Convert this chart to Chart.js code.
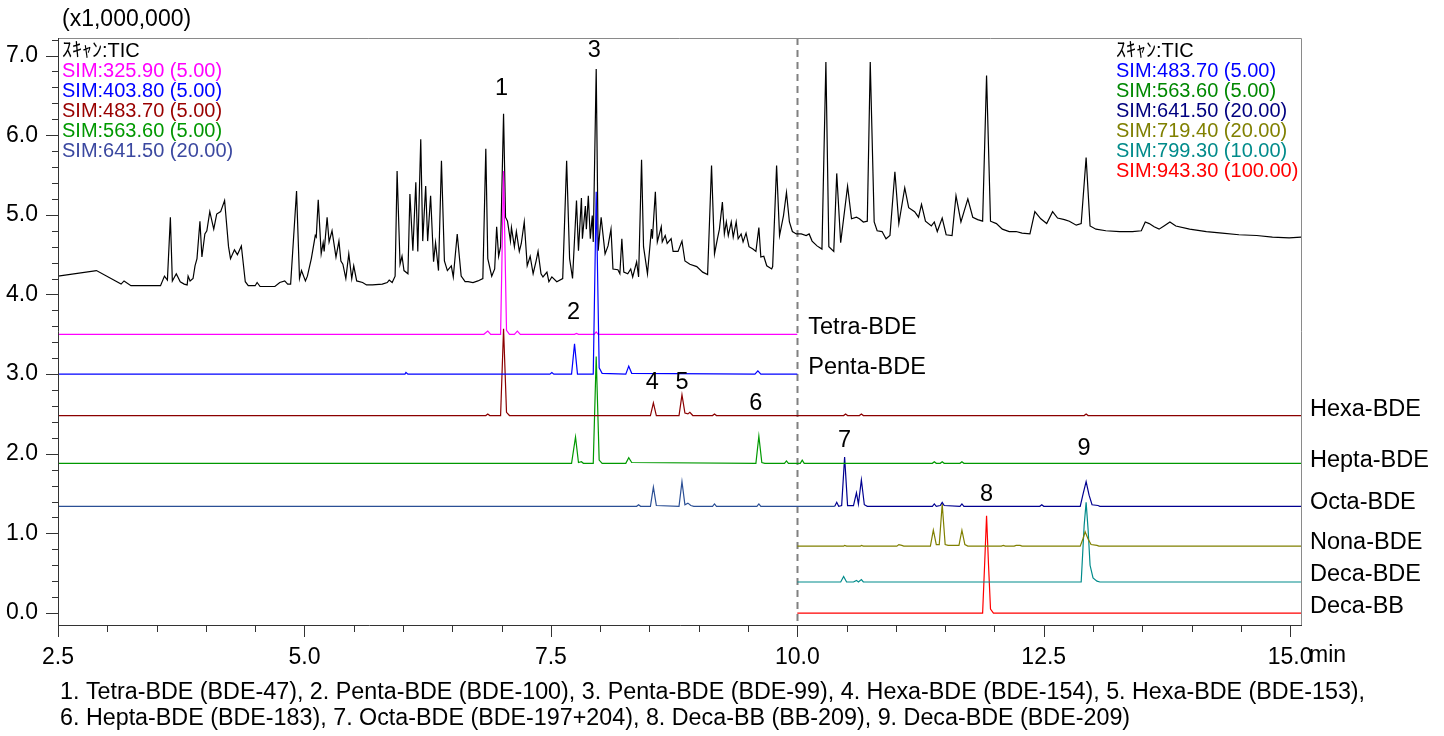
<!DOCTYPE html>
<html>
<head>
<meta charset="utf-8">
<title>PBDE chromatogram</title>
<script src="https://cdn.jsdelivr.net/npm/chart.js@4.4.1/dist/chart.umd.min.js"></script>
<style>
html, body { margin: 0; padding: 0; background: #fff; }
#wrap { width: 1444px; height: 736px; }
</style>
</head>
<body>
<div id="wrap"><canvas id="chrom" width="1444" height="736"></canvas></div>
<script>
"use strict";

// retention time (min) / intensity (x1,000,000) pairs
const tic = [[2.50,4.23],[2.89,4.30],[3.14,4.13],[3.17,4.17],[3.24,4.11],[3.54,4.11],[3.58,4.23],[3.61,4.18],[3.64,4.97],[3.66,4.17],[3.70,4.26],[3.74,4.16],[3.78,4.13],[3.81,4.12],[3.82,4.23],[3.84,4.17],[3.87,4.20],[3.89,4.36],[3.91,4.45],[3.94,4.92],[3.96,4.47],[3.99,4.76],[4.01,4.80],[4.04,5.04],[4.08,4.82],[4.11,5.01],[4.15,5.04],[4.19,5.18],[4.23,4.60],[4.25,4.45],[4.29,4.56],[4.32,4.50],[4.36,4.61],[4.40,4.16],[4.43,4.11],[4.50,4.11],[4.52,4.15],[4.55,4.10],[4.70,4.10],[4.75,4.15],[4.80,4.17],[4.83,4.13],[4.86,4.13],[4.92,5.30],[4.95,4.20],[4.97,4.30],[5.01,4.17],[5.03,4.23],[5.07,4.45],[5.11,4.74],[5.12,4.72],[5.14,5.19],[5.17,4.51],[5.19,4.65],[5.20,4.54],[5.23,4.97],[5.25,4.66],[5.28,4.80],[5.32,4.47],[5.35,4.67],[5.37,4.42],[5.39,4.38],[5.42,4.20],[5.45,4.51],[5.48,4.20],[5.50,4.36],[5.53,4.17],[5.59,4.15],[5.63,4.12],[5.69,4.12],[5.79,4.13],[5.84,4.15],[5.86,4.18],[5.89,4.15],[5.92,4.23],[5.94,5.55],[5.97,4.38],[5.99,4.48],[6.01,4.30],[6.05,4.26],[6.07,5.26],[6.10,4.55],[6.13,5.41],[6.15,4.54],[6.18,5.95],[6.20,4.67],[6.23,5.36],[6.25,4.67],[6.28,5.24],[6.31,4.41],[6.33,4.65],[6.36,4.30],[6.39,5.68],[6.42,4.42],[6.45,4.30],[6.49,4.36],[6.51,4.22],[6.55,4.76],[6.59,4.23],[6.63,4.16],[6.66,4.16],[6.71,4.15],[6.76,4.17],[6.81,4.20],[6.84,5.83],[6.86,4.45],[6.90,4.23],[6.93,4.32],[6.95,4.85],[6.97,4.48],[6.99,4.60],[7.02,6.27],[7.04,4.97],[7.06,4.92],[7.09,4.67],[7.10,4.84],[7.13,4.60],[7.15,4.79],[7.18,4.54],[7.20,4.64],[7.23,4.91],[7.26,4.36],[7.29,4.48],[7.32,4.26],[7.35,4.42],[7.37,4.54],[7.40,4.26],[7.42,4.22],[7.46,4.28],[7.48,4.16],[7.51,4.22],[7.56,4.16],[7.62,4.20],[7.66,5.68],[7.69,4.45],[7.72,4.20],[7.76,5.18],[7.78,4.55],[7.81,5.21],[7.82,4.70],[7.85,5.11],[7.86,4.82],[7.88,5.24],[7.90,4.70],[7.92,4.99],[7.93,4.66],[7.96,6.83],[7.98,4.55],[8.01,4.97],[8.05,4.51],[8.08,4.61],[8.11,4.82],[8.13,4.32],[8.18,4.31],[8.20,4.26],[8.22,4.70],[8.24,4.28],[8.28,4.26],[8.31,4.32],[8.33,4.22],[8.37,4.41],[8.39,4.22],[8.42,5.69],[8.44,4.60],[8.48,4.26],[8.52,4.82],[8.53,4.70],[8.56,5.29],[8.58,4.66],[8.62,4.85],[8.63,4.66],[8.66,4.74],[8.68,4.64],[8.72,4.70],[8.74,4.54],[8.79,4.54],[8.83,4.67],[8.86,4.42],[8.91,4.38],[8.98,4.35],[9.04,4.28],[9.09,4.25],[9.13,5.62],[9.16,4.51],[9.19,4.70],[9.21,4.82],[9.24,5.16],[9.26,4.76],[9.28,4.91],[9.30,4.74],[9.33,4.91],[9.35,4.72],[9.38,4.91],[9.40,4.70],[9.43,4.76],[9.45,4.66],[9.48,4.77],[9.51,4.60],[9.55,4.57],[9.58,4.54],[9.61,4.84],[9.63,4.47],[9.66,4.48],[9.69,4.36],[9.74,4.32],[9.75,4.35],[9.79,5.62],[9.82,4.74],[9.86,4.99],[9.89,5.28],[9.92,4.91],[9.95,4.79],[9.99,4.76],[10.04,4.76],[10.09,4.74],[10.12,4.76],[10.15,4.67],[10.20,4.61],[10.25,4.57],[10.29,6.92],[10.32,4.60],[10.37,4.54],[10.40,5.52],[10.44,4.65],[10.51,5.36],[10.55,4.95],[10.60,4.97],[10.63,4.95],[10.67,4.91],[10.71,4.92],[10.74,6.92],[10.78,4.91],[10.81,4.80],[10.86,4.79],[10.90,4.70],[10.94,4.74],[10.99,5.54],[11.03,4.89],[11.09,5.34],[11.13,5.09],[11.19,5.04],[11.23,4.97],[11.26,5.13],[11.30,4.92],[11.36,4.86],[11.39,4.91],[11.42,4.79],[11.47,4.96],[11.51,4.75],[11.57,4.74],[11.61,5.24],[11.66,4.91],[11.73,5.20],[11.78,4.97],[11.83,4.94],[11.88,4.92],[11.92,6.75],[11.96,4.92],[12.02,4.89],[12.08,4.82],[12.15,4.79],[12.22,4.79],[12.28,4.77],[12.36,4.76],[12.41,5.04],[12.47,4.95],[12.53,4.89],[12.59,5.04],[12.64,4.96],[12.71,4.94],[12.76,4.92],[12.83,4.87],[12.88,4.89],[12.93,5.72],[12.97,4.86],[13.03,4.82],[13.13,4.80],[13.27,4.79],[13.40,4.79],[13.49,4.80],[13.53,4.91],[13.57,4.89],[13.62,4.85],[13.67,4.82],[13.72,4.86],[13.78,4.91],[13.84,4.86],[13.98,4.82],[14.15,4.79],[14.31,4.77],[14.48,4.75],[14.66,4.74],[14.82,4.72],[14.99,4.71],[15.11,4.72]];

const tetraBDE = [[2.50,3.50],[6.82,3.50],[6.86,3.54],[6.89,3.50],[6.99,3.50],[7.02,5.55],[7.05,3.55],[7.08,3.50],[7.13,3.50],[7.16,3.54],[7.19,3.50],[7.74,3.50],[7.76,3.51],[7.78,3.50],[7.94,3.50],[7.96,3.53],[7.98,3.50],[10.00,3.50]];

const pentaBDE = [[2.50,3.00],[6.02,3.00],[6.03,3.02],[6.05,3.00],[7.49,3.00],[7.51,3.02],[7.53,3.00],[7.71,3.00],[7.74,3.38],[7.77,3.00],[7.93,3.00],[7.96,5.29],[7.99,3.08],[8.02,3.01],[8.26,3.00],[8.29,3.10],[8.32,3.01],[9.57,3.00],[9.60,3.04],[9.63,3.00],[10.00,3.00]];

const hexaBDE = [[2.50,2.48],[6.84,2.48],[6.86,2.50],[6.88,2.48],[6.99,2.48],[7.02,3.57],[7.05,2.52],[7.08,2.48],[8.51,2.48],[8.54,2.64],[8.57,2.48],[8.80,2.48],[8.83,2.74],[8.86,2.51],[8.89,2.50],[8.91,2.52],[8.94,2.48],[9.14,2.48],[9.16,2.50],[9.18,2.48],[10.47,2.48],[10.49,2.50],[10.51,2.48],[10.63,2.48],[10.65,2.50],[10.67,2.48],[12.91,2.48],[12.93,2.50],[12.95,2.48],[15.12,2.48]];

const heptaBDE = [[2.50,1.88],[7.71,1.88],[7.75,2.21],[7.78,1.89],[7.81,1.90],[7.83,1.88],[7.93,1.88],[7.96,3.22],[7.99,1.92],[8.02,1.88],[8.26,1.88],[8.29,1.95],[8.32,1.89],[9.58,1.88],[9.61,2.22],[9.64,1.89],[9.67,1.88],[9.87,1.88],[9.89,1.91],[9.91,1.88],[10.03,1.88],[10.05,1.92],[10.07,1.88],[11.37,1.88],[11.39,1.90],[11.41,1.88],[11.45,1.88],[11.47,1.90],[11.49,1.88],[11.65,1.88],[11.67,1.90],[11.69,1.88],[15.12,1.88]];

const octaBDE = [[2.50,1.34],[8.37,1.34],[8.39,1.36],[8.41,1.34],[8.51,1.34],[8.54,1.58],[8.57,1.35],[8.80,1.34],[8.83,1.65],[8.86,1.36],[8.89,1.38],[8.92,1.35],[8.95,1.34],[9.14,1.34],[9.16,1.37],[9.18,1.34],[9.59,1.34],[9.61,1.37],[9.63,1.34],[10.38,1.34],[10.40,1.39],[10.42,1.34],[10.45,1.35],[10.48,1.96],[10.51,1.35],[10.57,1.35],[10.60,1.51],[10.62,1.37],[10.65,1.67],[10.68,1.36],[10.71,1.34],[11.37,1.34],[11.39,1.37],[11.41,1.34],[11.45,1.35],[11.47,1.39],[11.49,1.35],[11.65,1.34],[11.67,1.37],[11.69,1.34],[12.46,1.34],[12.48,1.36],[12.50,1.34],[12.87,1.34],[12.90,1.50],[12.93,1.65],[12.96,1.48],[12.99,1.36],[13.05,1.35],[13.07,1.34],[15.12,1.34]];

const nonaBDE = [[10.00,0.84],[10.47,0.84],[10.48,0.85],[10.50,0.84],[10.64,0.84],[10.65,0.85],[10.67,0.84],[11.01,0.84],[11.03,0.86],[11.06,0.85],[11.08,0.84],[11.35,0.84],[11.38,1.04],[11.41,0.86],[11.44,0.86],[11.47,1.37],[11.50,0.86],[11.53,0.85],[11.64,0.85],[11.67,1.04],[11.70,0.86],[11.73,0.84],[12.07,0.84],[12.09,0.85],[12.11,0.84],[12.20,0.84],[12.22,0.85],[12.26,0.85],[12.28,0.84],[12.87,0.84],[12.90,0.94],[12.92,1.02],[12.95,0.93],[12.98,0.86],[13.04,0.85],[13.06,0.84],[15.12,0.84]];

const decaBDE = [[10.00,0.39],[10.44,0.39],[10.47,0.46],[10.50,0.39],[10.57,0.39],[10.60,0.41],[10.62,0.39],[10.65,0.42],[10.67,0.39],[12.88,0.39],[12.91,1.10],[12.93,1.39],[12.95,1.05],[12.97,0.60],[13.00,0.44],[13.04,0.40],[13.07,0.39],[15.12,0.39]];

const decaBB = [[10.00,0.00],[11.88,0.00],[11.90,0.60],[11.92,1.22],[11.94,0.60],[11.96,0.05],[11.99,0.00],[15.12,0.00]];

const xTickValues = [2.5, 5.0, 7.5, 10.0, 12.5, 15.0];
const xTickLabels = ["2.5", "5.0", "7.5", "10.0", "12.5", "15.0"];
const yTickValues = [0, 1, 2, 3, 4, 5, 6, 7];
const yTickLabels = ["0.0", "1.0", "2.0", "3.0", "4.0", "5.0", "6.0", "7.0"];

const traceNames = ["Tetra-BDE", "Penta-BDE", "Hexa-BDE", "Hepta-BDE", "Octa-BDE", "Nona-BDE", "Deca-BDE", "Deca-BB"];
const traceNameY = [3.58, 3.08, 2.55, 1.92, 1.39, 0.89, 0.49, 0.08];

const peakNumbers = ["1", "2", "3", "4", "5", "6", "7", "8", "9"];
const peakNumberX = [7.00, 7.73, 7.94, 8.53, 8.83, 9.58, 10.48, 11.92, 12.91];
const peakNumberY = [6.58, 3.77, 7.06, 2.89, 2.89, 2.63, 2.17, 1.49, 2.06];

const leftLegend = ["ｽｷｬﾝ:TIC", "SIM:325.90 (5.00)", "SIM:403.80 (5.00)", "SIM:483.70 (5.00)", "SIM:563.60 (5.00)", "SIM:641.50 (20.00)"];
const leftLegendColors = ["#000000", "#ff00ff", "#0000ff", "#990000", "#009900", "#3b48a0"];
const rightLegend = ["ｽｷｬﾝ:TIC", "SIM:483.70 (5.00)", "SIM:563.60 (5.00)", "SIM:641.50 (20.00)", "SIM:719.40 (20.00)", "SIM:799.30 (10.00)", "SIM:943.30 (100.00)"];
const rightLegendColors = ["#000000", "#0000ff", "#008800", "#000080", "#808000", "#008b8b", "#ff0000"];

const footnotes = [
    "1. Tetra-BDE (BDE-47), 2. Penta-BDE (BDE-100), 3. Penta-BDE (BDE-99), 4. Hexa-BDE (BDE-154), 5. Hexa-BDE (BDE-153),",
    "6. Hepta-BDE (BDE-183), 7. Octa-BDE (BDE-197+204), 8. Deca-BB (BB-209), 9. Deca-BDE (BDE-209)"
];

const FONT = "Arial, 'Liberation Sans', 'Noto Sans CJK JP', sans-serif";

function trace(label, points, color, order) {
    return {
        label: label,
        data: points.map(function(p) { return { x: p[0], y: p[1] }; }),
        borderColor: color,
        borderWidth: 1.2,
        pointRadius: 0,
        tension: 0,
        fill: false,
        order: order
    };
}

const octaSet = trace("641.50", octaBDE, "#2b4f95", 3);
octaSet.segment = {
    borderColor: function(c) { return c.p0.parsed.x >= 10 ? "#000090" : "#2b4f95"; }
};

const decorations = {
    id: "decorations",
    beforeDatasetsDraw(chart) {
        const ctx = chart.ctx, a = chart.chartArea, xs = chart.scales.x;
        const px = Math.round(xs.getPixelForValue(10)) + 0.5;
        ctx.save();
        ctx.strokeStyle = "#808080";
        ctx.lineWidth = 2;
        ctx.setLineDash([7, 5]);
        ctx.beginPath();
        ctx.moveTo(px, a.top);
        ctx.lineTo(px, a.bottom);
        ctx.stroke();
        ctx.restore();
    },
    afterDraw(chart) {
        const ctx = chart.ctx, a = chart.chartArea, xs = chart.scales.x, ys = chart.scales.y;
        ctx.save();
        // frame
        ctx.lineWidth = 1;
        ctx.strokeStyle = "#8a8a8a";
        ctx.beginPath();
        ctx.moveTo(a.left, a.top + 0.5);
        ctx.lineTo(a.right - 0.5, a.top + 0.5);
        ctx.lineTo(a.right - 0.5, a.bottom);
        ctx.stroke();
        ctx.strokeStyle = "#333";
        ctx.beginPath();
        ctx.moveTo(a.left + 0.5, a.top);
        ctx.lineTo(a.left + 0.5, a.bottom + 0.5);
        ctx.lineTo(a.right, a.bottom + 0.5);
        ctx.stroke();
        // tick marks
        ctx.beginPath();
        for (let i = 0; i <= 25; i++) {
            const v = 2.5 + i * 0.5;
            const px = Math.round(xs.getPixelForValue(v)) + 0.5;
            const len = (i % 5 === 0) ? 12 : 7;
            ctx.moveTo(px, a.bottom);
            ctx.lineTo(px, a.bottom + len);
        }
        for (let i = 0; i <= 36; i++) {
            const v = i * 0.2;
            const py = Math.round(ys.getPixelForValue(v)) + 0.5;
            const len = (i % 5 === 0) ? 12 : 6;
            ctx.moveTo(a.left, py);
            ctx.lineTo(a.left - len, py);
        }
        ctx.stroke();

        ctx.fillStyle = "#000";
        ctx.textBaseline = "middle";
        ctx.textAlign = "left";
        ctx.font = "23px " + FONT;
        ctx.fillText("(x1,000,000)", 62, 20);
        ctx.fillText("min", 1309, 656);

        // legends
        ctx.font = "20px " + FONT;
        leftLegend.forEach(function(t, i) {
            ctx.fillStyle = leftLegendColors[i];
            ctx.fillText(t, 62, 51 + i * 20);
        });
        rightLegend.forEach(function(t, i) {
            ctx.fillStyle = rightLegendColors[i];
            ctx.fillText(t, 1116, 51 + i * 20);
        });

        // trace names
        ctx.fillStyle = "#000";
        ctx.font = "23.5px " + FONT;
        traceNames.forEach(function(t, i) {
            const x = i < 2 ? xs.getPixelForValue(10) + 11 : a.right + 8;
            ctx.fillText(t, x, ys.getPixelForValue(traceNameY[i]));
        });

        // peak numbers
        ctx.textAlign = "center";
        peakNumbers.forEach(function(t, i) {
            ctx.fillText(t, xs.getPixelForValue(peakNumberX[i]), ys.getPixelForValue(peakNumberY[i]));
        });

        // compound list
        ctx.textAlign = "left";
        ctx.font = "23.3px " + FONT;
        footnotes.forEach(function(t, i) {
            ctx.fillText(t, 60, 693 + i * 26);
        });
        ctx.restore();
    }
};

const chart = new Chart(document.getElementById("chrom"), {
    type: "line",
    data: {
        datasets: [
            trace("TIC", tic, "#000000", 9),
            trace("325.90", tetraBDE, "#ff00ff", 1),
            trace("403.80", pentaBDE, "#0000ff", 0),
            trace("483.70", hexaBDE, "#8b0000", 2),
            trace("563.60", heptaBDE, "#009900", 2),
            octaSet,
            trace("719.40", nonaBDE, "#808000", 3),
            trace("799.30", decaBDE, "#008b8b", 4),
            trace("943.30", decaBB, "#ff0000", 4)
        ]
    },
    options: {
        responsive: false,
        devicePixelRatio: 1,
        animation: false,
        layout: {
            padding: { top: 38, right: 142, bottom: 51, left: 0 }
        },
        plugins: {
            legend: { display: false },
            tooltip: { enabled: false }
        },
        scales: {
            x: {
                type: "linear",
                min: 2.5,
                max: 15.12,
                grid: { display: false, drawTicks: false },
                border: { display: false },
                afterBuildTicks: function(scale) {
                    scale.ticks = xTickValues.map(function(v) { return { value: v }; });
                },
                afterFit: function(scale) { scale.height = 60; },
                ticks: {
                    autoSkip: false,
                    maxRotation: 0,
                    padding: 19,
                    color: "#000",
                    font: { family: FONT, size: 23 },
                    callback: function(v, i) { return xTickLabels[i]; }
                }
            },
            y: {
                type: "linear",
                min: -0.15,
                max: 7.22,
                grid: { display: false, drawTicks: false },
                border: { display: false },
                afterBuildTicks: function(scale) {
                    scale.ticks = yTickValues.map(function(v) { return { value: v }; });
                },
                afterFit: function(scale) { scale.width = 58; },
                ticks: {
                    autoSkip: false,
                    padding: 20,
                    color: "#000",
                    font: { family: FONT, size: 23 },
                    callback: function(v, i) { return yTickLabels[i]; }
                }
            }
        }
    },
    plugins: [decorations]
});
</script>
</body>
</html>
